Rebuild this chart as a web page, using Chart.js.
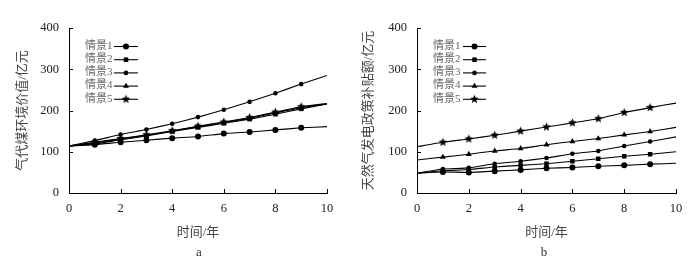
<!DOCTYPE html>
<html><head><meta charset="utf-8">
<script src="https://cdn.jsdelivr.net/npm/chart.js@4.4.1/dist/chart.umd.min.js"></script>
<style>
html,body{margin:0;padding:0;background:#fff;width:693px;height:269px;overflow:hidden;}
.panel{position:absolute;top:0;height:269px;}
</style></head>
<body>
<div class="panel" style="left:0;width:346px"><canvas id="ca" width="346" height="269"></canvas></div>
<div class="panel" style="left:346px;width:347px"><canvas id="cb" width="347" height="269"></canvas></div>
<script>
// ---- data ----
const years = [0,1,2,3,4,5,6,7,8,9,10];
const seriesNames = ['情景1','情景2','情景3','情景4','情景5'];
const xTicks = [0,2,4,6,8,10];
const yTicks = [0,100,200,300,400];

// chart a: 气代煤环境价值 (亿元)
const a1 = [114,117,123,128,133,137,144,148,153,158,161];
const a2 = [114,119,129,138,149,159,169,179,191,204,216];
const a3 = [114,127,142,154,168,184,202,221,242,264,285];
const a4 = [114,121,131,140,150,161,171,181,194,207,216];
const a5 = [114,123,132,141,151,162,172,183,196,209,217];

// chart b: 天然气发电政策补贴额 (亿元)
const b1 = [48,51,50,53,56,60,62,65,67,70,72];
const b2 = [48,54,57,63,67,71,77,83,89,94,100];
const b3 = [48,58,61,71,77,85,95,102,114,125,136];
const b4 = [80,87,94,102,108,117,125,132,141,149,159];
const b5 = [112,123,131,140,150,160,170,180,195,207,218];

// ---- marker images ----
function starImg(r){
  const c=document.createElement('canvas'); const s=Math.ceil(r*2+2); c.width=s;c.height=s;
  const g=c.getContext('2d'); g.fillStyle='#000'; g.beginPath();
  for(let i=0;i<10;i++){const rr=i%2?r*0.45:r; const an=-Math.PI/2+i*Math.PI/5;
    g.lineTo(s/2+rr*Math.cos(an), s/2+rr*Math.sin(an));}
  g.closePath(); g.fill(); return c;
}
const STAR = starImg(4.5);
const styles = [
  {pointStyle:'circle', r:3},
  {pointStyle:'rect', r:3.2},
  {pointStyle:'circle', r:2.3},
  {pointStyle:'triangle', r:3.4},
  {pointStyle:STAR, r:4.5}
];
function radii(r){ return years.map((y,i)=> (i===0||i===years.length-1)?0:r); }

function makeDatasets(arrs){
  return arrs.map((d,i)=>({
    label: seriesNames[i],
    data: years.map((x,j)=>({x:x,y:d[j]})),
    borderColor:'#000', backgroundColor:'#000', borderWidth:1.1,
    pointStyle: styles[i].pointStyle, pointRadius: radii(styles[i].r),
    pointBorderWidth:0, pointBackgroundColor:'#000', tension:0.15,
    legendRadius: styles[i].r
  }));
}

const SERIF = "'Liberation Serif','Times New Roman','Noto Sans CJK SC',serif";

const extras = {
  id:'extras',
  afterDraw(chart, args, o){
    const ctx=chart.ctx, ca=chart.chartArea, xs=chart.scales.x, ys=chart.scales.y;
    ctx.save();
    ctx.strokeStyle='#000'; ctx.lineWidth=1; ctx.beginPath();
    ys.ticks.forEach(t=>{const py=Math.round(ys.getPixelForValue(t.value))+0.5; ctx.moveTo(ca.left,py); ctx.lineTo(ca.left+4,py);});
    xs.ticks.forEach(t=>{const px=Math.round(xs.getPixelForValue(t.value))+0.5; ctx.moveTo(px,ca.bottom); ctx.lineTo(px,ca.bottom-4);});
    ctx.stroke();
    // legend
    ctx.font = "11px "+SERIF; ctx.textBaseline='middle'; ctx.textAlign='left';
    chart.data.datasets.forEach((ds,i)=>{
      const yy=o.legTop+i*13.2;
      ctx.fillStyle='#666'; ctx.fillText(ds.label, o.textX, yy);
      ctx.strokeStyle='#000'; ctx.lineWidth=1.1; ctx.beginPath();
      ctx.moveTo(o.lineX1, yy+0.5); ctx.lineTo(o.lineX2, yy+0.5); ctx.stroke();
      ctx.fillStyle='#000';
      Chart.helpers.drawPoint(ctx,{pointStyle:ds.pointStyle,radius:ds.legendRadius,rotation:0,borderWidth:0},(o.lineX1+o.lineX2)/2,yy+0.5);
    });
    // panel label
    ctx.font="13px "+SERIF; ctx.fillStyle='#333'; ctx.textAlign='center';
    ctx.fillText(o.panel, o.panelX, 253);
    ctx.restore();
  }
};

function build(id, arrs, ytitle, yW, padRight, o){
  return new Chart(document.getElementById(id),{
    type:'line',
    data:{datasets:makeDatasets(arrs)},
    options:{
      responsive:false, animation:false,
      layout:{padding:{left:15,top:28,right:padRight,bottom:29}},
      plugins:{legend:{display:false},tooltip:{enabled:false},extras:o},
      scales:{
        x:{type:'linear',min:0,max:10,
          afterBuildTicks:s=>{s.ticks=xTicks.map(v=>({value:v}));},
          afterFit:s=>{s.height=47;},
          grid:{display:false,drawTicks:false},
          border:{display:true,color:'#000',width:1},
          ticks:{padding:8,color:'#222',font:{family:SERIF,size:12.5}},
          title:{display:true,text:'时间/年',color:'#444',padding:0,font:{family:SERIF,size:13}}
        },
        y:{min:0,max:400,
          afterBuildTicks:s=>{s.ticks=yTicks.map(v=>({value:v}));},
          afterFit:s=>{s.width=yW;},
          grid:{display:false,drawTicks:false},
          border:{display:true,color:'#000',width:1},
          ticks:{padding:10,color:'#222',font:{family:SERIF,size:12.5}},
          title:{display:true,text:ytitle,color:'#444',padding:0,font:{family:SERIF,size:13}}
        }
      }
    },
    plugins:[extras]
  });
}

build('ca',[a1,a2,a3,a4,a5],'气代煤环境价值/亿元',54,19,
  {legTop:46,textX:85,lineX1:114,lineX2:138,panel:'a',panelX:199});
build('cb',[b1,b2,b3,b4,b5],'天然气发电政策补贴额/亿元',56,17,
  {legTop:46,textX:87,lineX1:117,lineX2:140,panel:'b',panelX:198});
</script>
</body></html>
